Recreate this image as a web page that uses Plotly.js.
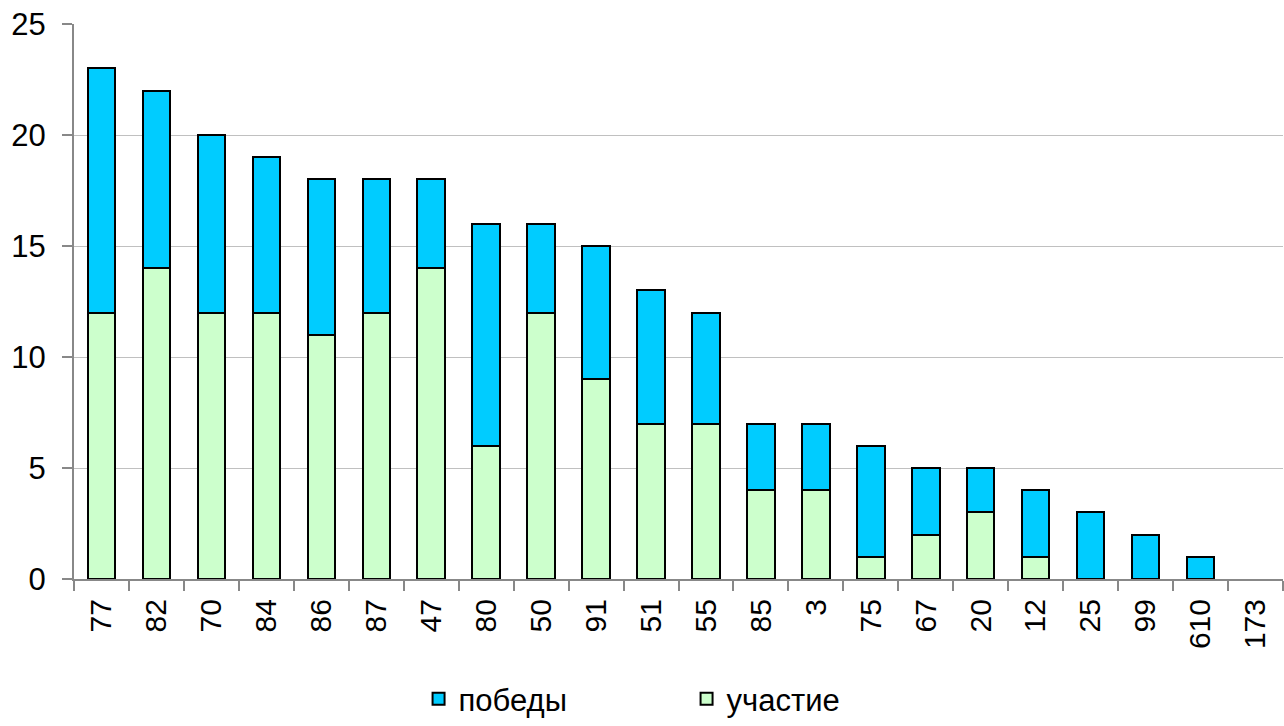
<!DOCTYPE html>
<html>
<head>
<meta charset="utf-8">
<script src="https://cdn.plot.ly/plotly-3.0.1.min.js"></script>
<style>html,body{margin:0;padding:0;background:#fff;}#chart{width:1284px;height:726px;}</style>
</head>
<body>
<div id="chart"></div>
<script>
const categories = ["77","82","70","84","86","87","47","80","50","91","51","55","85","3","75","67","20","12","25","99","610","173"];
const participation = [12,14,12,12,11,12,14,6,12,9,7,7,4,4,1,2,3,1,0,0,0,0];
const wins = [11,8,8,7,7,6,4,10,4,6,6,5,3,3,5,3,2,3,3,2,1,0];
const seriesNames = ["участие","победы"];
const colors = ["#CCFFCC","#00CCFF"];

function lineWidths(vals){ return vals.map(v => v === 0 ? 0 : 2); }

const traces = [
  {type:"bar", name:seriesNames[0], x:categories, y:participation,
   marker:{color:colors[0], line:{color:"#000", width:lineWidths(participation)}}},
  {type:"bar", name:seriesNames[1], x:categories, y:wins,
   marker:{color:colors[1], line:{color:"#000", width:lineWidths(wins)}}}
];

const layout = {
  width:1284, height:726,
  margin:{l:74, r:1, t:24, b:147},
  barmode:"stack", bargap:0.5,
  paper_bgcolor:"#fff", plot_bgcolor:"#fff",
  font:{family:"Liberation Sans, Arial, sans-serif", size:30, color:"#000"},
  showlegend:true,
  legend:{orientation:"h", traceorder:"reversed", x:0.285, xanchor:"left",
    y:0, yanchor:"bottom", yref:"container", entrywidth:223, entrywidthmode:"pixels",
    itemwidth:30, font:{size:31}},
  xaxis:{type:"category", tickangle:-90, tickson:"boundaries", ticks:"outside", ticklen:10,
    tickcolor:"#888", tickwidth:2, showline:true, linecolor:"#888", linewidth:2,
    showgrid:false, zeroline:false, tickfont:{size:30}, ticklabelstandoff:6},
  yaxis:{range:[0,25], dtick:5, ticks:"outside", ticklen:10, tickcolor:"#888", tickwidth:2,
    showline:true, linecolor:"#888", linewidth:2, showgrid:true, gridcolor:"#c0c0c0",
    gridwidth:1, zeroline:false, tickfont:{size:31}, ticklabelstandoff:10}
};

Plotly.newPlot("chart", traces, layout, {displayModeBar:false, staticPlot:true});
</script>
</body>
</html>
